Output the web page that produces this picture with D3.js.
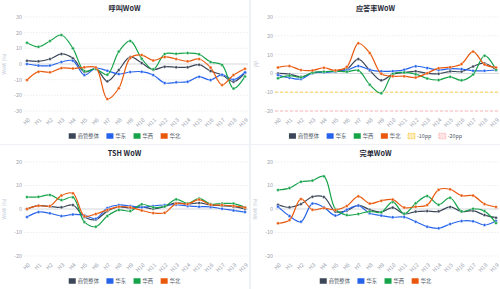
<!DOCTYPE html>
<html>
<head>
<meta charset="utf-8">
<script src="https://cdn.jsdelivr.net/npm/d3@7"></script>
<style>
    html, body { margin: 0; padding: 0; background: #eef1f6; }
    svg { display: block; font-family: "Noto Sans CJK SC", "Noto Sans", sans-serif; }
</style>
</head>
<body>
<svg id="chart" width="500" height="289"></svg>
<script>
const hours = ['H0', 'H1', 'H2', 'H3', 'H4', 'H5', 'H6', 'H7', 'H8', 'H9',
    'H10', 'H11', 'H12', 'H13', 'H14', 'H15', 'H16', 'H17', 'H18', 'H19'];
const seriesNames = ['商管整体', '华东', '华西', '华北'];
const seriesColors = ['#3b4658', '#2563eb', '#16a34a', '#ea580c'];

// 呼叫WoW (%)
const callTotal = [2.1, 1.7, 3.2, 6.4, 3.6, -5.1, -3, -11, -3.8, 4.5, 0.6, -3.6, -1.7, -2.1, -2, -0.4, -4.5, -7, -11.3, -5.7];
const callEast = [0, -1, -1, 1.3, 2.1, -7, -2.6, -4.3, -6.4, -5.1, -4.9, -7, -12.1, -11.7, -11.3, -8.1, -10.2, -6.8, -10, -5.3];
const callWest = [13.6, 11, 14.7, 18.5, 10, -4.5, -3.2, -6.8, 7.9, 14.7, 3.4, -3.4, 6.4, 6.6, 7, 6.2, 1.3, -0.6, -15.7, -7.9];
const callNorth = [-10.2, -4.9, -5.3, -2.6, -2.8, -2.1, -2.3, -22.3, -15.5, 3.8, 5.7, 2.3, 4.5, 3.2, 1.7, 3.2, -2.3, -13.4, -7, -3];

// 应答率WoW (pp)
const ansTotal = [0, -0.4, -1.8, 0.2, 0.9, 1.2, 2.3, 7.6, 1.6, -3.7, -0.4, 0.5, 1.1, 0.1, -0.2, 1.1, 1, 3.7, 5.4, 1.8];
const ansEast = [-0.9, -2.3, -3, 0.2, 0.5, 0.9, 1.6, 3.9, 1.9, 1.1, 1.2, 1.9, 3.8, 2.9, 1.8, 2.5, 2.3, 1.4, 1.4, 1.8];
const ansWest = [-2.6, -1.2, -2.1, 0.4, 0.9, 1.2, 0.9, 1.6, -6, -10.5, -0.3, 0.5, -0.4, -2.7, -3.5, -1.8, -3.7, -0.6, 9.4, 1.9];
const ansNorth = [3.2, 3.9, 1.8, 1.6, 3, 1.6, 3.5, 16, 10.8, -0.2, -1.5, -1.5, -2.2, 0.1, 2.8, 3.3, 5, 11.6, 4.8, 3.2];
const refValues = [-10, -20];
const refNames = ['-10pp', '-20pp'];
const refColors = ['#fbbf24', '#fca5a5'];

// TSH WoW (%)
const tshTotal = [0, 1.4, 1.1, 0.7, 1.7, -3.4, -4.5, -0.9, 0.9, 0.4, 0.9, 0.1, 1.1, 2.6, 2.1, 2.6, 1.7, 1.4, 1, 0];
const tshEast = [-3.4, -1.3, -1.8, -3, -2.3, -2.7, -4.1, 0.4, 1.7, 1.3, 0.7, 1.3, 1.7, 1.8, 1.3, 1, 0.9, 0.1, -0.6, -1.3];
const tshWest = [5.1, 5.2, 6, 3.8, 5, -5.5, -7.5, -3, -0.4, -0.9, 2, 0.7, 1.1, 4.1, 2.4, 4.5, 2.1, 2.3, 2.3, 0.7];
const tshNorth = [0, 1.4, 1.3, 5.7, 6.7, -3, -2.1, -0.4, 1, 0.7, -0.6, -1.7, -1.6, 2.3, 2.1, 4, 1.8, 1.7, 1.3, 0.6];

// 完单WoW (%)
const doneTotal = [1.8, 0.7, 2.1, 5.2, 5.1, -1.1, -0.7, 1.6, -0.3, -1.3, 0.6, -2.1, -1.1, -0.9, -1, 0.9, -1.1, -0.7, -2.6, -3.7];
const doneEast = [1, -3, -5.4, 2.3, 0.7, -2.8, -0.3, 1.4, -1.8, -2.8, -3.5, -3.4, -5.4, -7.5, -8.2, -6.4, -5.1, -5.2, -6.8, -5.1];
const doneWest = [8.1, 8.9, 11.6, 12.1, 13.9, 0, -2.6, -2.1, -1, -1.4, 3, -2, 2.4, 5.5, 1.8, 4.8, -1, 0.1, -0.9, -6];
const doneNorth = [-6.1, -4.7, 4.3, -0.3, 0.4, -0.4, 1.3, 5.4, 2.3, 3.5, 4, 0.6, 1, 1.7, 8.2, 8.4, 5.7, 5.7, 2.1, 0.9];

const panels = [
    { title: '呼叫WoW', yLabel: 'WoW (%)', domain: [-30, 30], col: 0, row: 0,
      series: [callTotal, callEast, callWest, callNorth] },
    { title: '应答率WoW', yLabel: 'pp', domain: [-20, 30], col: 1, row: 0, refs: true,
      series: [ansTotal, ansEast, ansWest, ansNorth] },
    { title: 'TSH WoW', yLabel: 'WoW (%)', domain: [-20, 20], col: 0, row: 1,
      series: [tshTotal, tshEast, tshWest, tshNorth] },
    { title: '完单WoW', yLabel: 'WoW (%)', domain: [-20, 20], col: 1, row: 1,
      series: [doneTotal, doneEast, doneWest, doneNorth] }
];

const svg = d3.select('#chart');
const W = 249, H = 144;
const m = { top: 17, bottom: 111, left: 24, right: 248 };

panels.forEach(drawPanel);

function drawPanel(p) {
    const g = svg.append('g')
        .attr('transform', `translate(${p.col * 251},${p.row * 145})`);

    g.append('rect').attr('width', W).attr('height', H).attr('fill', '#fff');

    const x = d3.scalePoint().domain(hours).range([m.left + 3, m.right - 3]);
    const y = d3.scaleLinear().domain(p.domain).range([m.bottom, m.top]);
    const ticks = d3.range(p.domain[0], p.domain[1] + 1, 10);

    // Title
    g.append('text')
        .attr('x', W / 2).attr('y', 10.5)
        .attr('text-anchor', 'middle')
        .attr('font-size', '7.2px').attr('font-weight', 'bold')
        .attr('fill', '#1f2937')
        .text(p.title);

    // Grid
    g.selectAll('.grid')
        .data(ticks)
        .join('line')
        .attr('x1', m.left).attr('x2', m.right)
        .attr('y1', d => y(d)).attr('y2', d => y(d))
        .attr('stroke', d => d === 0 ? '#d4d7dc' : '#e5e7eb')
        .attr('stroke-width', d => d === 0 ? 1 : 0.7)
        .attr('stroke-dasharray', d => d === 0 ? null : '1.5,1.5');

    // Y ticks
    g.selectAll('.ytick')
        .data(ticks)
        .join('text')
        .attr('x', m.left - 2).attr('y', d => y(d))
        .attr('dy', '0.35em')
        .attr('text-anchor', 'end')
        .attr('font-size', '5.5px')
        .attr('fill', '#9ca3af')
        .text(d => d);

    g.append('text')
        .attr('transform', `translate(6,${(m.top + m.bottom) / 2}) rotate(-90)`)
        .attr('text-anchor', 'middle')
        .attr('font-size', '5px')
        .attr('fill', '#c5ccd6')
        .text(p.yLabel);

    // X ticks
    g.selectAll('.xtick')
        .data(hours)
        .join('text')
        .attr('transform', d => `translate(${x(d) + 2},${m.bottom + 8}) rotate(-45)`)
        .attr('text-anchor', 'end')
        .attr('dy', '0.35em')
        .attr('font-size', '5.5px')
        .attr('fill', '#9ca3af')
        .text(d => d);

    // Reference lines
    if (p.refs) {
        refValues.forEach((v, i) => {
            g.append('line')
                .attr('x1', m.left).attr('x2', m.right)
                .attr('y1', y(v)).attr('y2', y(v))
                .attr('stroke', refColors[i])
                .attr('stroke-width', 0.8)
                .attr('stroke-dasharray', '3,2');
        });
    }

    // Series
    const line = d3.line()
        .x((d, i) => x(hours[i]))
        .y(d => y(d))
        .curve(d3.curveCatmullRom.alpha(0.5));

    p.series.forEach((vals, s) => {
        g.append('path').datum(vals)
            .attr('d', line)
            .attr('fill', 'none')
            .attr('stroke', seriesColors[s])
            .attr('stroke-width', 1.2);

        g.selectAll(null)
            .data(vals)
            .join('circle')
            .attr('cx', (d, i) => x(hours[i]))
            .attr('cy', d => y(d))
            .attr('r', 1.5)
            .attr('fill', seriesColors[s])
            .attr('stroke', '#fff')
            .attr('stroke-width', 0.4);
    });

    // Legend
    const items = seriesNames.map((n, i) => ({ name: n, color: seriesColors[i] }));
    if (p.refs) {
        refNames.forEach((n, i) => items.push({ name: n, color: refColors[i], dashed: true }));
    }
    const leg = g.append('g');
    let cx = 0;
    items.forEach(it => {
        const item = leg.append('g').attr('transform', `translate(${cx},0)`);
        item.append('rect')
            .attr('width', 7).attr('height', 5.5)
            .attr('y', -2.75)
            .attr('fill', it.dashed ? d3.color(it.color).copy({ opacity: 0.3 }) : it.color)
            .attr('stroke', it.dashed ? it.color : 'none')
            .attr('stroke-width', 0.8)
            .attr('stroke-dasharray', it.dashed ? '1.5,1' : null);
        const t = item.append('text')
            .attr('x', 9).attr('dy', '0.35em')
            .attr('font-size', '5.3px')
            .attr('fill', '#4b5563')
            .text(it.name);
        cx += 9 + t.node().getComputedTextLength() + 7.5;
    });
    const legW = cx - 7.5;
    leg.attr('transform', `translate(${(W - legW) / 2},136)`);
}
</script>
</body>
</html>
